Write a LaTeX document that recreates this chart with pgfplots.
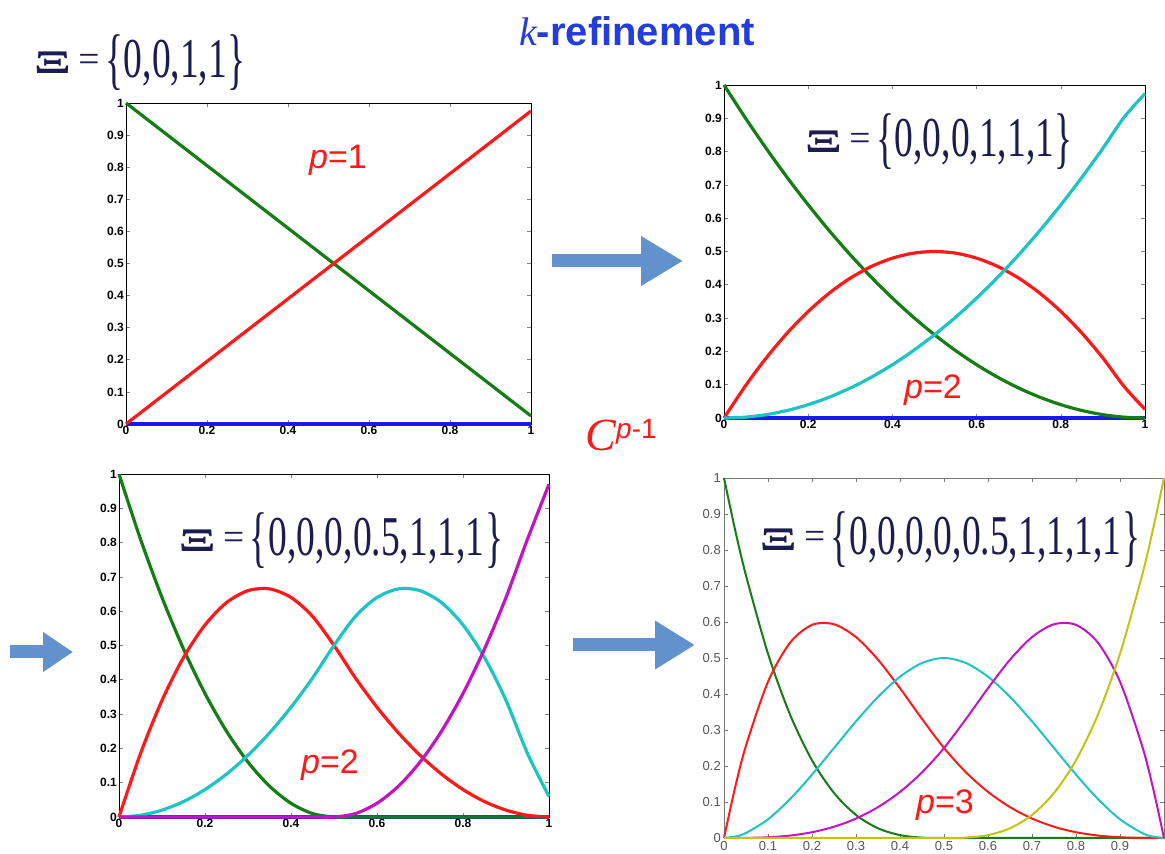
\documentclass[border=0pt]{standalone}
\usepackage{fontspec}
\setmainfont{Liberation Sans}
\newfontfamily\serif{Liberation Serif}
\usepackage{graphicx}
\usepackage{xcolor}
\usepackage{pgfplots}
\pgfplotsset{compat=1.18}
\usepackage{pgfplotstable}
\usetikzlibrary{arrows.meta}

\definecolor{cgreen}{RGB}{20,125,20}
\definecolor{cred}{RGB}{255,25,25}
\definecolor{ccyan}{RGB}{30,195,195}
\definecolor{cmag}{RGB}{195,20,195}
\definecolor{cyel}{RGB}{195,195,20}
\definecolor{cblue}{RGB}{25,25,235}
\definecolor{titleblue}{RGB}{35,60,220}
\definecolor{knotnavy}{RGB}{28,28,80}
\definecolor{arrowblue}{RGB}{98,146,204}
\definecolor{tickgray}{RGB}{85,85,85}
\definecolor{axgray}{RGB}{120,120,120}

% knot vector label: bold Xi, equals sign, tall braces
\newcommand{\vc}[1]{$\vcenter{\hbox{#1}}$}
\newcommand{\knots}[1]{{\serif\fontsize{37.5}{37.5}\selectfont\color{knotnavy}%
  \vc{\scalebox{1.45}[0.88]{\bfseries Ξ}}\hspace{0.2em}\vc{=}\hspace{0.15em}%
  \vc{\scalebox{1}[1.8]{\{}}\hspace{0.02em}\vc{\scalebox{1}[1.5]{#1}}\hspace{0.02em}\vc{\scalebox{1}[1.8]{\}}}}}
\newcommand{\plabel}[1]{{\color{cred}\fontsize{34}{34}\selectfont\itshape p\upshape =#1}}

% quadratic Bernstein basis, knots {0,0,0,1,1,1}
\pgfplotstableread{
x     g       r      c
0     1       0      0
0.05  0.9025  0.095  0.0025
0.1   0.81    0.18   0.01
0.15  0.7225  0.255  0.0225
0.2   0.64    0.32   0.04
0.25  0.5625  0.375  0.0625
0.3   0.49    0.42   0.09
0.35  0.4225  0.455  0.1225
0.4   0.36    0.48   0.16
0.45  0.3025  0.495  0.2025
0.5   0.25    0.5    0.25
0.55  0.2025  0.495  0.3025
0.6   0.16    0.48   0.36
0.65  0.1225  0.455  0.4225
0.7   0.09    0.42   0.49
0.75  0.0625  0.375  0.5625
0.8   0.04    0.32   0.64
0.85  0.0225  0.255  0.7225
0.9   0.01    0.18   0.81
0.95  0.0025  0.095  0.9025
1     0       0.026  0.974
}\tabB

% quadratic B-splines, knots {0,0,0,0.5,1,1,1}
\pgfplotstableread{
x     g     r      c      m
0     1     0      0      0
0.05  0.81  0.185  0.005  0
0.1   0.64  0.34   0.02   0
0.15  0.49  0.465  0.045  0
0.2   0.36  0.56   0.08   0
0.25  0.25  0.625  0.125  0
0.3   0.16  0.66   0.18   0
0.35  0.09  0.665  0.245  0
0.4   0.04  0.64   0.32   0
0.45  0.01  0.585  0.405  0
0.5   0     0.5    0.5    0
0.55  0     0.405  0.585  0.01
0.6   0     0.32   0.64   0.04
0.65  0     0.245  0.665  0.09
0.7   0     0.18   0.66   0.16
0.75  0     0.125  0.625  0.25
0.8   0     0.08   0.56   0.36
0.85  0     0.045  0.465  0.49
0.9   0     0.02   0.34   0.64
0.95  0     0.005  0.185  0.81
1     0     0      0.06   0.97
}\tabC

% cubic B-splines, knots {0,0,0,0,0.5,1,1,1,1}
\pgfplotstableread{
x      g         r        c         m        y
0      1         0        0         0        0
0.025  0.857375  0.139    0.003625  0.00003  0
0.05   0.729     0.25675  0.014     0.00025  0
0.1    0.512     0.434    0.052     0.002    0
0.15   0.343     0.54225  0.108     0.00675  0
0.2    0.216     0.592    0.176     0.016    0
0.25   0.125     0.59375  0.25      0.03125  0
0.3    0.064     0.558    0.324     0.054    0
0.35   0.027     0.49525  0.392     0.08575  0
0.4    0.008     0.416    0.448     0.128    0
0.45   0.001     0.33075  0.486     0.18225  0
0.5    0         0.25     0.5       0.25     0
0.55   0         0.18225  0.486     0.33075  0.001
0.6    0         0.128    0.448     0.416    0.008
0.65   0         0.08575  0.392     0.49525  0.027
0.7    0         0.054    0.324     0.558    0.064
0.75   0         0.03125  0.25      0.59375  0.125
0.8    0         0.016    0.176     0.592    0.216
0.85   0         0.00675  0.108     0.54225  0.343
0.9    0         0.002    0.052     0.434    0.512
0.95   0         0.00025  0.014     0.25675  0.729
0.975  0         0.00003  0.003625  0.139    0.857375
1      0         0        0         0        1
}\tabD

\pgfplotsset{
  bspl/.style={
    scale only axis, anchor=south west,
    xmin=0, xmax=1, ymin=0, ymax=1, clip=false,
    axis line style={line width=0.9pt},
    major tick length=4pt,
    tick style={line width=0.6pt},
    xtick distance=0.2, ytick distance=0.1,
    /pgf/number format/assume math mode=true,
    tick label style={font=\fontsize{12}{12}\selectfont\bfseries, inner sep=2pt},
    every axis plot/.append style={line width=3.2pt, smooth, mark=none},
  },
}

\begin{document}
\begin{tikzpicture}
\useasboundingbox (0,0) rectangle (1165pt,854pt);

% linear
\begin{axis}[bspl, at={(126pt,430pt)}, width=405pt, height=321pt]
  \addplot[cblue] coordinates {(0,0) (1,0)};
  \addplot[cgreen] coordinates {(0,1) (1,0.025)};
  \addplot[cred] coordinates {(0,0) (1,0.975)};
\end{axis}

% quadratic, no interior knot
\begin{axis}[bspl, at={(724pt,436pt)}, width=421pt, height=333pt]
  \addplot[cblue] coordinates {(0,0) (1,0)};
  \addplot[cgreen] table[x=x,y=g]{\tabB};
  \addplot[cred] table[x=x,y=r]{\tabB};
  \addplot[ccyan] table[x=x,y=c]{\tabB};
\end{axis}

% quadratic, interior knot 0.5
\begin{axis}[bspl, at={(119pt,37pt)}, width=430pt, height=343pt]
  \addplot[cblue] coordinates {(0,0) (1,0)};
  \addplot[cgreen] table[x=x,y=g]{\tabC};
  \addplot[cred] table[x=x,y=r]{\tabC};
  \addplot[ccyan] table[x=x,y=c]{\tabC};
  \addplot[cmag] table[x=x,y=m]{\tabC};
\end{axis}

% cubic, interior knot 0.5
\begin{axis}[bspl, at={(724pt,16pt)}, width=440pt, height=360pt,
    xtick={0,0.1,0.2,0.3,0.4,0.5,0.6,0.7,0.8,0.9,1},
    xticklabels={0,0.1,0.2,0.3,0.4,0.5,0.6,0.7,0.8,0.9,{}},
    axis line style={draw=axgray, line width=0.8pt},
    tick style={draw=axgray},
    tick label style={font=\fontsize{13}{13}\selectfont, text=tickgray, inner sep=3pt},
    every axis plot/.append style={line width=2pt}]
  \addplot[cgreen] table[x=x,y=g]{\tabD};
  \addplot[cred] table[x=x,y=r]{\tabD};
  \addplot[ccyan] table[x=x,y=c]{\tabD};
  \addplot[cmag] table[x=x,y=m]{\tabD};
  \addplot[cyel] table[x=x,y=y]{\tabD};
\end{axis}

% title
\node[anchor=base, text=titleblue] at (637pt,808pt)
  {{\serif\itshape\fontsize{40}{40}\selectfont k}{\bfseries\fontsize{40}{40}\selectfont -refinement}};

% knot vectors
\begin{scope}[every node/.style={inner sep=0pt}]
\node at (140pt,791pt) {\knots{0,0,1,1}};
\node at (939pt,712pt) {\knots{0,0,0,1,1,1}};
\node at (341pt,313pt) {\knots{0,0,0,0.5,1,1,1}};
\node at (950pt,314pt) {\knots{0,0,0,0,0.5,1,1,1,1}};
\end{scope}

% degrees
\node at (338pt,694pt) {\plabel{1}};
\node at (933pt,464pt) {\plabel{2}};
\node at (330pt,89pt) {\plabel{2}};
\node at (945pt,49pt) {\plabel{3}};

% continuity
\node[anchor=base west, inner sep=0pt, text=cred] at (585pt,403pt)
  {\serif\itshape\fontsize{46}{46}\selectfont C};
\node[anchor=base west, inner sep=0pt, text=cred] at (616pt,415pt)
  {\fontsize{28}{28}\selectfont\itshape p\upshape -1};

% arrows
\draw[arrowblue, line width=13pt, -{Triangle[length=42pt, width=47pt]}] (552pt,593pt) -- (683pt,593pt);
\draw[arrowblue, line width=13pt, -{Triangle[length=30pt, width=38pt]}] (10pt,202pt) -- (73pt,202pt);
\draw[arrowblue, line width=13pt, -{Triangle[length=40pt, width=46pt]}] (573pt,209pt) -- (695pt,209pt);
\end{tikzpicture}
\end{document}
